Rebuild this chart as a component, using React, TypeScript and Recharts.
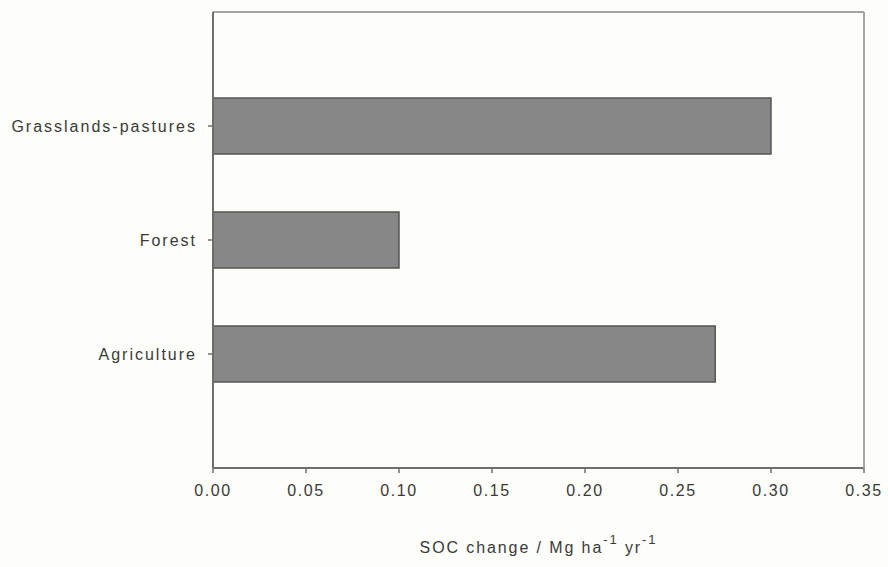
import React from 'react';
import { BarChart, Bar, XAxis, YAxis, Label } from 'recharts';

const categories = ['Grasslands-pastures', 'Forest', 'Agriculture'];
const socChange = [0.30, 0.10, 0.27];
const xTicks = [0, 0.05, 0.1, 0.15, 0.2, 0.25, 0.3, 0.35];

const data = categories.map((name, i) => ({ name, value: socChange[i] }));

const FONT = '"Liberation Sans", Arial, sans-serif';
const TEXT = '#3a3a3a';

const SocLabel = (props: any) => {
  const vb = props.viewBox || {};
  const cx = vb.x + vb.width / 2;
  const y = vb.y + 85;
  return (
    <text x={cx} y={y} textAnchor="middle" fill={TEXT} fontSize={16} fontFamily={FONT} letterSpacing={1.9}>
      <tspan>SOC change / Mg ha</tspan>
      <tspan dy={-9} fontSize={13}>-1</tspan>
      <tspan dy={9}> yr</tspan>
      <tspan dy={-9} fontSize={13}>-1</tspan>
    </text>
  );
};

export default function App() {
  return (
    <div style={{ position: 'absolute', left: 0, top: 0, width: 888, height: 567, background: '#fdfdf9' }}>
      <BarChart
        width={888}
        height={567}
        data={data}
        layout="vertical"
        margin={{ top: 10, right: 22, bottom: 0, left: 0 }}
      >
        <XAxis
          type="number"
          domain={[0, 0.35]}
          ticks={xTicks}
          tickFormatter={(v: number) => v.toFixed(2)}
          interval={0}
          height={99}
          axisLine={{ stroke: '#6e6e6e', strokeWidth: 2 }}
          tickLine={{ stroke: '#6e6e6e', strokeWidth: 1.5 }}
          tickSize={5}
          tickMargin={12}
          tick={{ fill: TEXT, fontSize: 16, fontFamily: FONT, letterSpacing: 1.6 }}
        >
          <Label content={SocLabel} />
        </XAxis>
        <XAxis
          xAxisId="top"
          orientation="top"
          type="number"
          domain={[0, 0.35]}
          height={2}
          tick={false}
          tickLine={false}
          axisLine={{ stroke: '#a5a5a5', strokeWidth: 2 }}
        />
        <YAxis
          type="category"
          dataKey="name"
          width={213}
          padding={{ top: 57, bottom: 57 }}
          axisLine={{ stroke: '#6e6e6e', strokeWidth: 2 }}
          tickLine={{ stroke: '#6e6e6e', strokeWidth: 1.5 }}
          tickSize={5}
          tickMargin={11}
          tick={{ fill: TEXT, fontSize: 16, fontFamily: FONT, letterSpacing: 2 }}
        />
        <YAxis
          yAxisId="right"
          orientation="right"
          type="category"
          dataKey="name"
          width={2}
          tick={false}
          tickLine={false}
          axisLine={{ stroke: '#a5a5a5', strokeWidth: 2 }}
        />
        <Bar
          dataKey="value"
          barSize={56}
          fill="#878787"
          stroke="#555555"
          strokeWidth={1.5}
          isAnimationActive={false}
        />
      </BarChart>
    </div>
  );
}
